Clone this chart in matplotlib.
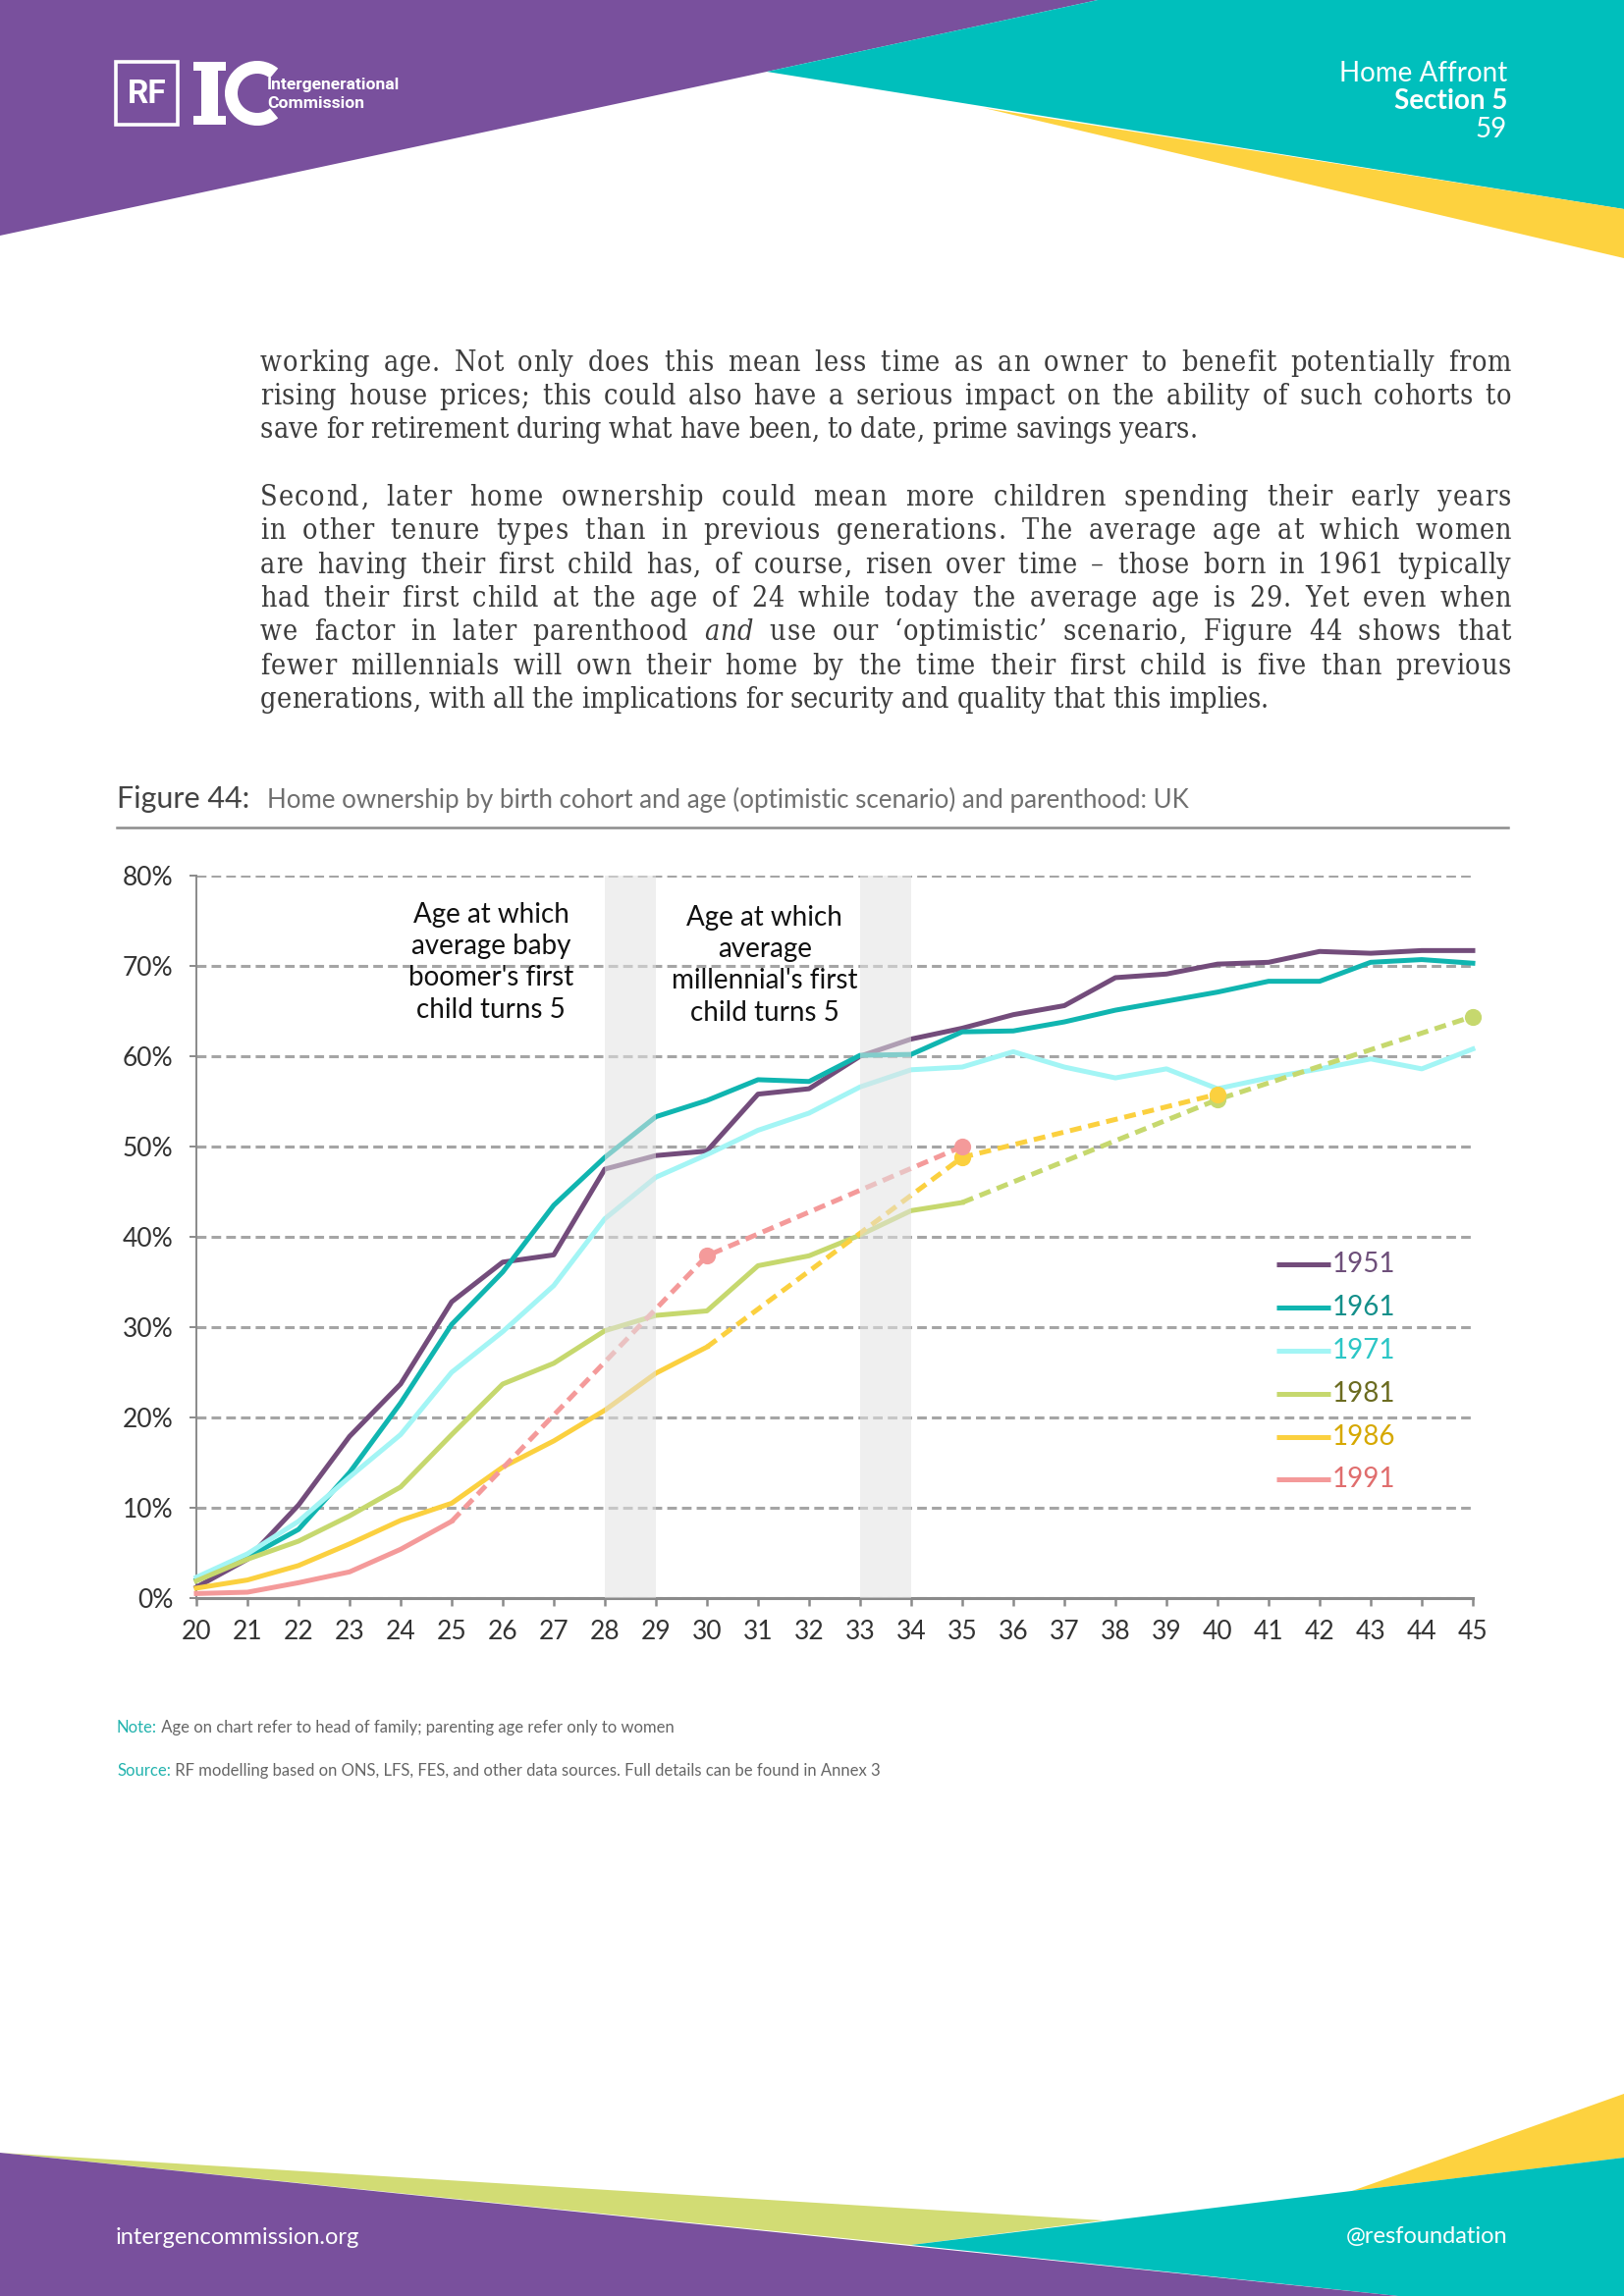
import matplotlib
matplotlib.use('Agg')
import matplotlib.pyplot as plt
from matplotlib import font_manager as fm
from matplotlib.patches import Polygon, Rectangle, Wedge
from matplotlib.ticker import FuncFormatter

# ---- data (home ownership %, by age of head of family) ----
ages = list(range(20, 46))
own_1951 = [1.2, 4.3, 10.3, 17.9, 23.7, 32.8, 37.2, 38.0, 47.5, 49.0, 49.5, 55.8, 56.4,
            60.0, 61.9, 63.1, 64.6, 65.6, 68.7, 69.1, 70.2, 70.4, 71.6, 71.4, 71.7, 71.7]
own_1961 = [2.0, 4.5, 7.6, 13.9, 21.6, 30.3, 36.1, 43.5, 48.8, 53.3, 55.1, 57.4, 57.2,
            60.1, 60.2, 62.7, 62.8, 63.8, 65.1, 66.1, 67.1, 68.3, 68.3, 70.4, 70.7, 70.3]
own_1971 = [2.3, 4.9, 8.5, 13.4, 18.1, 25.0, 29.5, 34.6, 42.0, 46.6, 49.1, 51.8, 53.7,
            56.6, 58.5, 58.8, 60.5, 58.8, 57.6, 58.6, 56.4, 57.6, 58.6, 59.7, 58.6, 60.8]

ages_1981 = list(range(20, 36))
own_1981 = [1.9, 4.3, 6.3, 9.1, 12.3, 18.1, 23.7, 26.0, 29.6, 31.3, 31.8, 36.8, 37.9, 40.2, 42.9, 43.8]
proj_ages_1981 = [35, 40, 45]
proj_1981 = [43.8, 55.2, 64.4]

ages_1986 = list(range(20, 31))
own_1986 = [1.1, 2.0, 3.6, 6.0, 8.6, 10.5, 14.5, 17.4, 20.8, 24.9, 27.8]
proj_ages_1986 = [30, 35, 40]
proj_1986 = [27.8, 48.8, 55.8]

ages_1991 = list(range(20, 26))
own_1991 = [0.5, 0.65, 1.7, 2.9, 5.4, 8.5]
proj_ages_1991 = [25, 30, 35]
proj_1991 = [8.5, 37.9, 50.0]

cohorts = ['1951', '1961', '1971', '1981', '1986', '1991']
line_cols = ['#734c7b', '#10b5b0', '#a3f5f5', '#c6d86e', '#fbd03f', '#f49a9a']
label_cols = ['#6e4f7a', '#138f8a', '#2cc6c6', '#6b6b20', '#d6a800', '#e06d6d']

bands = [(28, 29), (33, 34)]

body = [
    ["working age. Not only does this mean less time as an owner to benefit potentially from",
     "rising house prices; this could also have a serious impact on the ability of such cohorts to",
     "save for retirement during what have been, to date, prime savings years."],
    ["Second, later home ownership could mean more children spending their early years",
     "in other tenure types than in previous generations. The average age at which women",
     "are having their first child has, of course, risen over time \u2013 those born in 1961 typically",
     "had their first child at the age of 24 while today the average age is 29. Yet even when",
     "we factor in later parenthood _and_ use our \u2018optimistic\u2019 scenario, Figure 44 shows that",
     "fewer millennials will own their home by the time their first child is five than previous",
     "generations, with all the implications for security and quality that this implies."],
]

# ---- page ----
W, H = 1654, 2339
purple, teal, yellow, green = '#79509d', '#00bfbc', '#fdd23f', '#d2dc74'
sans = 'Lato'

fig = plt.figure(figsize=(W / 200, H / 200), dpi=200)
bg = fig.add_axes([0, 0, 1, 1])
bg.set_xlim(0, W)
bg.set_ylim(H, 0)
bg.axis('off')

# header shapes
bg.add_patch(Polygon([(0, 0), (1118, 0), (781, 73), (0, 240)], fc=purple, ec='none'))
bg.add_patch(Polygon([(1118, 0), (W, 0), (W, 213), (781, 73)], fc=teal, ec='none'))
bg.add_patch(Polygon([(1002, 110), (W, 213), (W, 263)], fc=yellow, ec='none'))
# footer shapes
bg.add_patch(Polygon([(0, 2193), (1124, 2262), (928, 2287)], fc=green, ec='none'))
bg.add_patch(Polygon([(1377, 2232), (W, 2133), (W, 2198)], fc=yellow, ec='none'))
bg.add_patch(Polygon([(928, 2287), (W, 2198), (W, H), (1424, H)], fc=teal, ec='none'))
bg.add_patch(Polygon([(0, 2193), (1424, H), (0, H)], fc=purple, ec='none'))

# logos
bg.add_patch(Rectangle((118, 63), 63, 64, fill=False, ec='white', lw=1.3))
bg.text(150, 96, 'RF', color='white', fontsize=12, fontweight='bold', family='Roboto',
        ha='center', va='center')
bg.add_patch(Rectangle((197, 63), 33, 9, fc='white', ec='none'))
bg.add_patch(Rectangle((197, 118), 33, 9, fc='white', ec='none'))
bg.add_patch(Rectangle((205, 63), 17, 64, fc='white', ec='none'))
bg.add_patch(Wedge((262, 95), 33, 50, 310, width=13, fc='white', ec='none'))
bg.text(272, 87, 'Intergenerational', color='white', fontsize=6.3, fontweight='bold',
        family='Roboto', va='center')
bg.text(272, 106, 'Commission', color='white', fontsize=6.3, fontweight='bold',
        family='Roboto', va='center')

bg.text(1535, 75, 'Home Affront', color='white', fontsize=10, family=sans,
        ha='right', va='center')
bg.text(1535, 103, 'Section 5', color='white', fontsize=10, fontweight='bold',
        family=sans, ha='right', va='center')
bg.text(1535, 132, '59', color='white', fontsize=10, family=sans, ha='right', va='center')

bg.text(118, 2279, 'intergencommission.org', color='white', fontsize=8.5, family=sans,
        va='center')
bg.text(1535, 2279, '@resfoundation', color='white', fontsize=8.5,
        family=sans, ha='right', va='center')

# body text, justified with word and letter spacing
r = fig.canvas.get_renderer()
body_col = '#3d3d3d'
x0, x1 = 265, 1539
baselines = [[378, 412, 446], [515, 549, 584, 618, 652, 687, 721]]

cond_path = fm.findfont(fm.FontProperties(family='DejaVu Serif', stretch='condensed'))
condensed = 'Condensed' in cond_path
body_size = 10.3 if condensed else 9.2
body_stretch = 'condensed' if condensed else 'normal'


def glyph(s, x, y, italic):
    return bg.text(x, y, s, fontsize=body_size, family='DejaVu Serif',
                   fontstretch=body_stretch, color=body_col,
                   style='italic' if italic else 'normal', va='baseline', ha='left')


widths = {}


def char_w(ch, italic):
    key = (ch, italic)
    if key not in widths:
        a = glyph('x' + ch + 'x', 0, 0, italic)
        b = glyph('xx', 0, 0, italic)
        widths[key] = a.get_window_extent(r).width - b.get_window_extent(r).width
        a.remove()
        b.remove()
    return widths[key]


for para, ys in zip(body, baselines):
    for i, (line, y) in enumerate(zip(para, ys)):
        chars = []
        italic = False
        for ch in line:
            if ch == '_':
                italic = not italic
                continue
            chars.append((ch, italic))
        nat = sum(char_w(c, it) for c, it in chars)
        nsp = sum(1 for c, it in chars if c == ' ')
        last = i == len(para) - 1
        extra = 0 if last else x1 - x0 - nat
        track = 0.45 * extra / (len(chars) - 1)
        word_extra = 0.55 * extra / nsp
        x = x0
        for c, it in chars:
            if c != ' ':
                glyph(c, x, y, it)
            x += char_w(c, it) + track + (word_extra if c == ' ' else 0)

# figure title and rule
bg.text(119, 823, 'Figure 44:', fontsize=11, family=sans, color='#444444', va='baseline')
bg.text(272, 823, 'Home ownership by birth cohort and age (optimistic scenario) and parenthood: UK',
        fontsize=9.3, family=sans, color='#6f6f6f', va='baseline')
bg.plot([119, 1536], [843, 843], color='#8c8c8c', lw=0.9)

# notes
for y, head, rest in [(1760, 'Note:', ' Age on chart refer to head of family; parenting age refer only to women'),
                      (1804, 'Source:', ' RF modelling based on ONS, LFS, FES, and other data sources. Full details can be found in Annex 3')]:
    h = bg.text(119, y, head, fontsize=6, family=sans, color='#23b3ae', va='center')
    hw = h.get_window_extent(r).width
    bg.text(119 + hw, y, rest, fontsize=6, family=sans, color='#666666', va='center')

# ---- chart ----
ax = fig.add_axes([200 / W, 1 - 1628 / H, 1300 / W, 736 / H])
ax.set_facecolor('none')

series = [(ages, own_1951, None, None), (ages, own_1961, None, None), (ages, own_1971, None, None),
          (ages_1981, own_1981, proj_ages_1981, proj_1981),
          (ages_1986, own_1986, proj_ages_1986, proj_1986),
          (ages_1991, own_1991, proj_ages_1991, proj_1991)]

for (xa, ya, xp, yp), col in zip(series, line_cols):
    ax.plot(xa, ya, color=col, lw=1.8, zorder=3, clip_on=False)
for (xa, ya, xp, yp), col in zip(series, line_cols):
    if xp is not None:
        ax.plot(xp, yp, color=col, lw=1.8, ls=(0, (2.4, 1.4)), zorder=3.5,
                marker='o', markersize=5.2, markevery=[1, 2], clip_on=False)

for a, b in bands:
    ax.axvspan(a, b, color='#e2e2e2', alpha=0.55, lw=0, zorder=5)

ax.set_xlim(20, 45)
ax.set_ylim(0, 80)
ax.set_xticks(ages)
ax.set_yticks(range(0, 81, 10))
ax.yaxis.set_major_formatter(FuncFormatter(lambda v, p: '%d%%' % v))
ax.grid(axis='y', ls=(0, (3.2, 1.7)), lw=1.1, color='#a5a5a5')
ax.set_axisbelow(True)
for s in ['top', 'right']:
    ax.spines[s].set_visible(False)
ax.spines['left'].set_color('#8a8a8a')
ax.spines['left'].set_linewidth(0.7)
ax.spines['bottom'].set_color('#8a8a8a')
ax.spines['bottom'].set_linewidth(1.1)
ax.tick_params(axis='y', length=2.5, width=0.7, color='#8a8a8a', pad=6,
               labelsize=9.5, labelcolor='#333333')
ax.tick_params(axis='x', length=3, width=0.9, color='#8a8a8a', pad=5,
               labelsize=9.5, labelcolor='#333333')
for lab in ax.get_xticklabels() + ax.get_yticklabels():
    lab.set_family(sans)

ax.text(25.77, 70.4, 'Age at which\naverage baby\nboomer\'s first\nchild turns 5',
        ha='center', va='center', fontsize=10, family=sans,
        color='#111111', linespacing=1.3, zorder=6)
ax.text(31.13, 70.1, 'Age at which\naverage\nmillennial\'s first\nchild turns 5',
        ha='center', va='center', fontsize=10, family=sans,
        color='#111111', linespacing=1.3, zorder=6)

# legend
leg_y = [36.96, 32.2, 27.4, 22.6, 17.8, 13.15]
for name, lc, tc, y in zip(cohorts, line_cols, label_cols, leg_y):
    ax.plot([41.15, 42.21], [y, y], color=lc, lw=1.8, zorder=6, solid_capstyle='butt')
    ax.text(42.24, y, name, color=tc, fontsize=10, family=sans,
            va='center', ha='left', zorder=6)

fig.savefig('out.png', dpi=200)
